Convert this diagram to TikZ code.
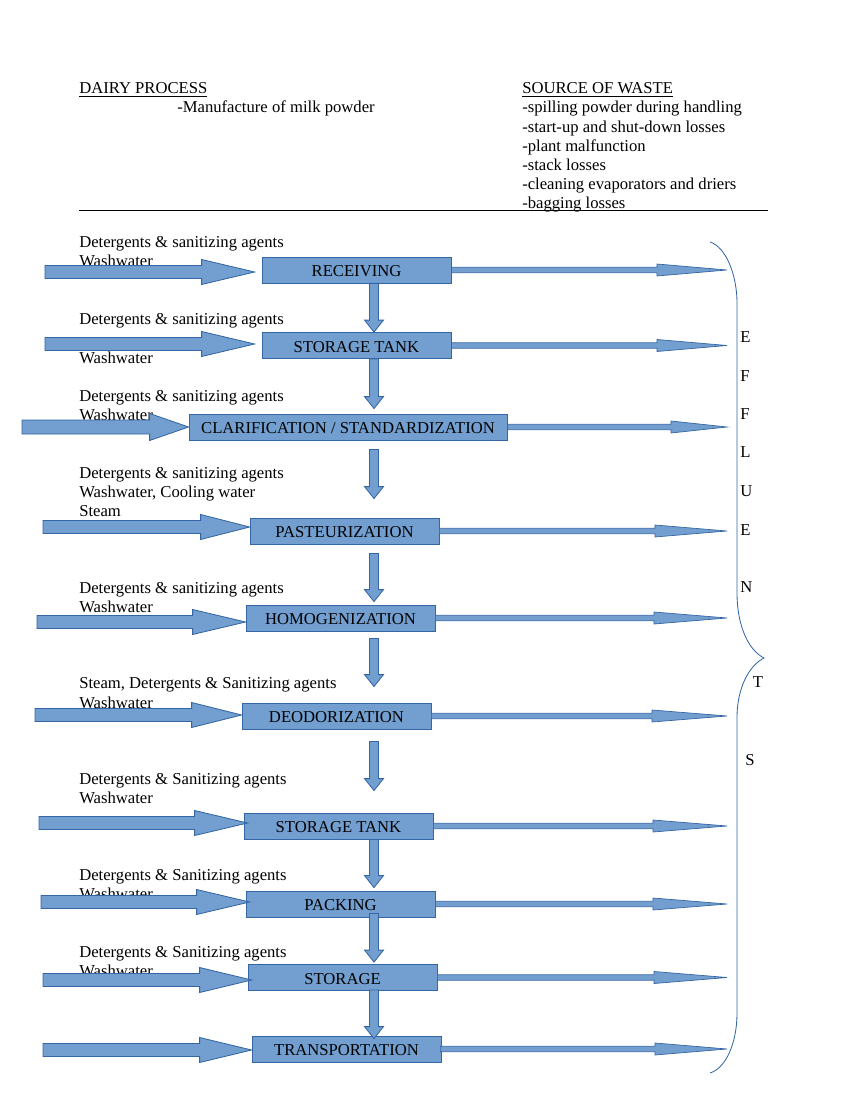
\documentclass[tikz,border=0pt]{standalone}
\usepackage{fontspec}
\setmainfont{Liberation Serif}
\usetikzlibrary{calc}
\definecolor{bfill}{HTML}{729FCF}
\definecolor{bline}{HTML}{3465A4}
\newcommand\pxu{0.7208pt}
% horizontal block arrow: #1 tail, #2 tip (x only), #3 shaft half, #4 head half, #5 head length, #6 style
\newcommand\harrow[6]{\path[#6] let \p1=(#1), \p2=(#2) in
 (\x1,\y1+#3*\pxu) -- (\x2-#5*\pxu,\y1+#3*\pxu) -- (\x2-#5*\pxu,\y1+#4*\pxu) -- (\x2,\y1)
 -- (\x2-#5*\pxu,\y1-#4*\pxu) -- (\x2-#5*\pxu,\y1-#3*\pxu) -- (\x1,\y1-#3*\pxu) -- cycle;}
% vertical (downward) block arrow: #1 tail, #2 tip (y only)
\newcommand\varrow[6]{\path[#6] let \p1=(#1), \p2=(#2) in
 (\x1-#3*\pxu,\y1) -- (\x1-#3*\pxu,\y2+#5*\pxu) -- (\x1-#4*\pxu,\y2+#5*\pxu) -- (\x1,\y2)
 -- (\x1+#4*\pxu,\y2+#5*\pxu) -- (\x1+#3*\pxu,\y2+#5*\pxu) -- (\x1+#3*\pxu,\y1) -- cycle;}
\begin{document}
\begin{tikzpicture}[x=0.7208pt,y=-0.7208pt,
  txt/.style={anchor=base west, inner sep=0pt, font=\fontsize{12}{14}\selectfont},
  letter/.style={anchor=west, inner sep=0pt, font=\fontsize{12}{14}\selectfont},
  procbox/.style={draw=bline, fill=bfill, line width=0.6pt, inner sep=0pt,
    minimum width=136.2pt, minimum height=18.74pt, text height=9.4pt, text depth=0pt,
    font=\fontsize{12}{14}\selectfont},
  bigarrow/.style={draw=bline, fill=bfill, line width=0.6pt, line join=miter},
  thinarrow/.style={draw=bline, fill=bfill, line width=0.5pt, line join=miter},
  brace/.style={draw=bline, line width=0.6pt}]
\useasboundingbox (0,0) rectangle (849,1099);

% header
\node[txt] (h1) at (79,94) {\underline{DAIRY PROCESS}};
\node[txt] (h2) at (177,113) {-Manufacture of milk powder};
\node[txt] (h3) at (522,94) {\underline{SOURCE OF WASTE}};
\node[txt] (s1) at (522,113) {-spilling powder during handling};
\node[txt] (s2) at (522,132.5) {-start-up and shut-down losses};
\node[txt] (s3) at (522,152) {-plant malfunction};
\node[txt] (s4) at (522,171) {-stack losses};
\node[txt] (s5) at (522,190) {-cleaning evaporators and driers};
\node[txt] (s6) at (522,209) {-bagging losses};
\coordinate (rl1) at (79,210);
\coordinate (rl2) at (768,210);
\draw[line width=0.6pt] (rl1) -- (rl2);

% input labels
\node[txt] (l1a) at (79,248) {Detergents \& sanitizing agents};
\node[txt] (l1b) at (79,267) {Washwater};
\node[txt] (l2a) at (79,324) {Detergents \& sanitizing agents};
\node[txt] (l2b) at (79,363) {Washwater};
\node[txt] (l3a) at (79,401) {Detergents \& sanitizing agents};
\node[txt] (l3b) at (79,420) {Washwater};
\node[txt] (l4a) at (79,478) {Detergents \& sanitizing agents};
\node[txt] (l4b) at (79,497) {Washwater, Cooling water};
\node[txt] (l4c) at (79,516) {Steam};
\node[txt] (l5a) at (79,593) {Detergents \& sanitizing agents};
\node[txt] (l5b) at (79,612) {Washwater};
\node[txt] (l6a) at (79,688.5) {Steam, Detergents \& Sanitizing agents};
\node[txt] (l6b) at (79,708) {Washwater};
\node[txt] (l7a) at (79,784) {Detergents \& Sanitizing agents};
\node[txt] (l7b) at (79,803) {Washwater};
\node[txt] (l8a) at (79,880) {Detergents \& Sanitizing agents};
\node[txt] (l8b) at (79,899) {Washwater};
\node[txt] (l9a) at (79,957) {Detergents \& Sanitizing agents};
\node[txt] (l9b) at (79,976) {Washwater};

% EFFLUENTS letters
\node[letter] (e1) at (740,337) {E};
\node[letter] (e2) at (740,376.5) {F};
\node[letter] (e3) at (740,414) {F};
\node[letter] (e4) at (740,452.5) {L};
\node[letter] (e5) at (740,491) {U};
\node[letter] (e6) at (740,530) {E};
\node[letter] (e7) at (740,587.5) {N};
\node[letter] (e8) at (752.5,682.5) {T};
\node[letter] (e9) at (745,760) {S};

% brace
\draw[brace] (710,242) .. controls (726,247) and (737,275) .. (737,303)
  -- (737,593) .. controls (737,625) and (748,650) .. (764,658)
  .. controls (748,666) and (737,690) .. (737,717)
  -- (737,1013) .. controls (737,1043) and (726,1068) .. (710,1073);

% process boxes
\node[procbox] (b1) at (356.5,270) {RECEIVING};
\node[procbox] (b2) at (356.5,345.5) {STORAGE TANK};
\node[procbox, minimum width=229.2pt] (b3) at (348,427) {CLARIFICATION / STANDARDIZATION};
\node[procbox] (b4) at (344.5,531) {PASTEURIZATION};
\node[procbox] (b5) at (340.5,618) {HOMOGENIZATION};
\node[procbox] (b6) at (336.5,716) {DEODORIZATION};
\node[procbox] (b7) at (338.5,826) {STORAGE TANK};
\node[procbox] (b8) at (340.5,904) {PACKING};
\node[procbox] (b9) at (342.5,977.5) {STORAGE};
\node[procbox] (b10) at (346.5,1049) {TRANSPORTATION};

% tails of input arrows
\coordinate (t1) at (45,272);
\coordinate (t2) at (45,344);
\coordinate (t3) at (22,427);
\coordinate (t4) at (43,527);
\coordinate (t5) at (37,622);
\coordinate (t6) at (35,715);
\coordinate (t7) at (39,823);
\coordinate (t8) at (41,902);
\coordinate (t9) at (43,980);
\coordinate (t10) at (43,1050);
% tips of output arrows
\coordinate (o1) at (727,270);
\coordinate (o2) at (727,345);
\coordinate (o3) at (727,428);
\coordinate (o4) at (727,531);
\coordinate (o5) at (727,617);
\coordinate (o6) at (727,716);
\coordinate (o7) at (727,824);
\coordinate (o8) at (727,904);
\coordinate (o9) at (727,978);
\coordinate (o10) at (727,1049);
% axis of the downward arrows
\coordinate (ax) at (374,0);

% input arrows
\harrow{t1}{$(b1.west)+(-7,0)$}{6.5}{12.5}{53}{bigarrow}
\harrow{t2}{$(b2.west)+(-7,0)$}{6.5}{12.5}{53}{bigarrow}
\harrow{t3}{b3.west}{7}{13.5}{39}{bigarrow}
\harrow{t4}{b4.west}{6.5}{12.5}{49}{bigarrow}
\harrow{t5}{b5.west}{6.5}{12.5}{53}{bigarrow}
\harrow{t6}{b6.west}{6.5}{12.5}{50}{bigarrow}
\harrow{t7}{$(b7.west)+(4,0)$}{6.5}{12.5}{53}{bigarrow}
\harrow{t8}{$(b8.west)+(4,0)$}{6.5}{12.5}{53}{bigarrow}
\harrow{t9}{$(b9.west)+(4,0)$}{6.5}{12.5}{52}{bigarrow}
\harrow{t10}{b10.west}{6.5}{12.5}{52}{bigarrow}

% output arrows
\harrow{b1.east}{o1}{2.7}{6}{70}{thinarrow}
\harrow{b2.east}{o2}{2.7}{6}{70}{thinarrow}
\harrow{b3.east}{o3}{2.7}{6}{56}{thinarrow}
\harrow{b4.east}{o4}{2.7}{6}{72}{thinarrow}
\harrow{b5.east}{o5}{2.7}{6}{73}{thinarrow}
\harrow{b6.east}{o6}{2.7}{6}{75}{thinarrow}
\harrow{b7.east}{o7}{2.7}{6}{74}{thinarrow}
\harrow{b8.east}{o8}{2.7}{6}{74}{thinarrow}
\harrow{b9.east}{o9}{2.7}{6}{73}{thinarrow}
\harrow{$(b10.east)+(-1,0)$}{o10}{2.7}{6}{72}{thinarrow}

% downward arrows
\varrow{b1.south -| ax}{b2.north -| ax}{4.5}{9.5}{12}{bigarrow}
\varrow{b2.south -| ax}{$(b3.north -| ax)+(0,-5)$}{4.5}{9.5}{12}{bigarrow}
\varrow{$(b3.south -| ax)+(0,9)$}{$(b4.north -| ax)+(0,-19)$}{4.5}{9.5}{12}{bigarrow}
\varrow{$(b4.south -| ax)+(0,9)$}{$(b5.north -| ax)+(0,-3)$}{4.5}{9.5}{12}{bigarrow}
\varrow{$(b5.south -| ax)+(0,7)$}{$(b6.north -| ax)+(0,-16)$}{4.5}{9.5}{12}{bigarrow}
\varrow{$(b6.south -| ax)+(0,12)$}{$(b7.north -| ax)+(0,-22)$}{4.5}{9.5}{12}{bigarrow}
\varrow{b7.south -| ax}{$(b8.north -| ax)+(0,-3)$}{4.5}{9.5}{12}{bigarrow}
\varrow{$(b8.south -| ax)+(0,-4)$}{$(b9.north -| ax)+(0,-2)$}{4.5}{9.5}{12}{bigarrow}
\varrow{$(b9.south -| ax)+(0,-1)$}{$(b10.north -| ax)+(0,3)$}{4.5}{9.5}{12}{bigarrow}
\end{tikzpicture}
\end{document}
